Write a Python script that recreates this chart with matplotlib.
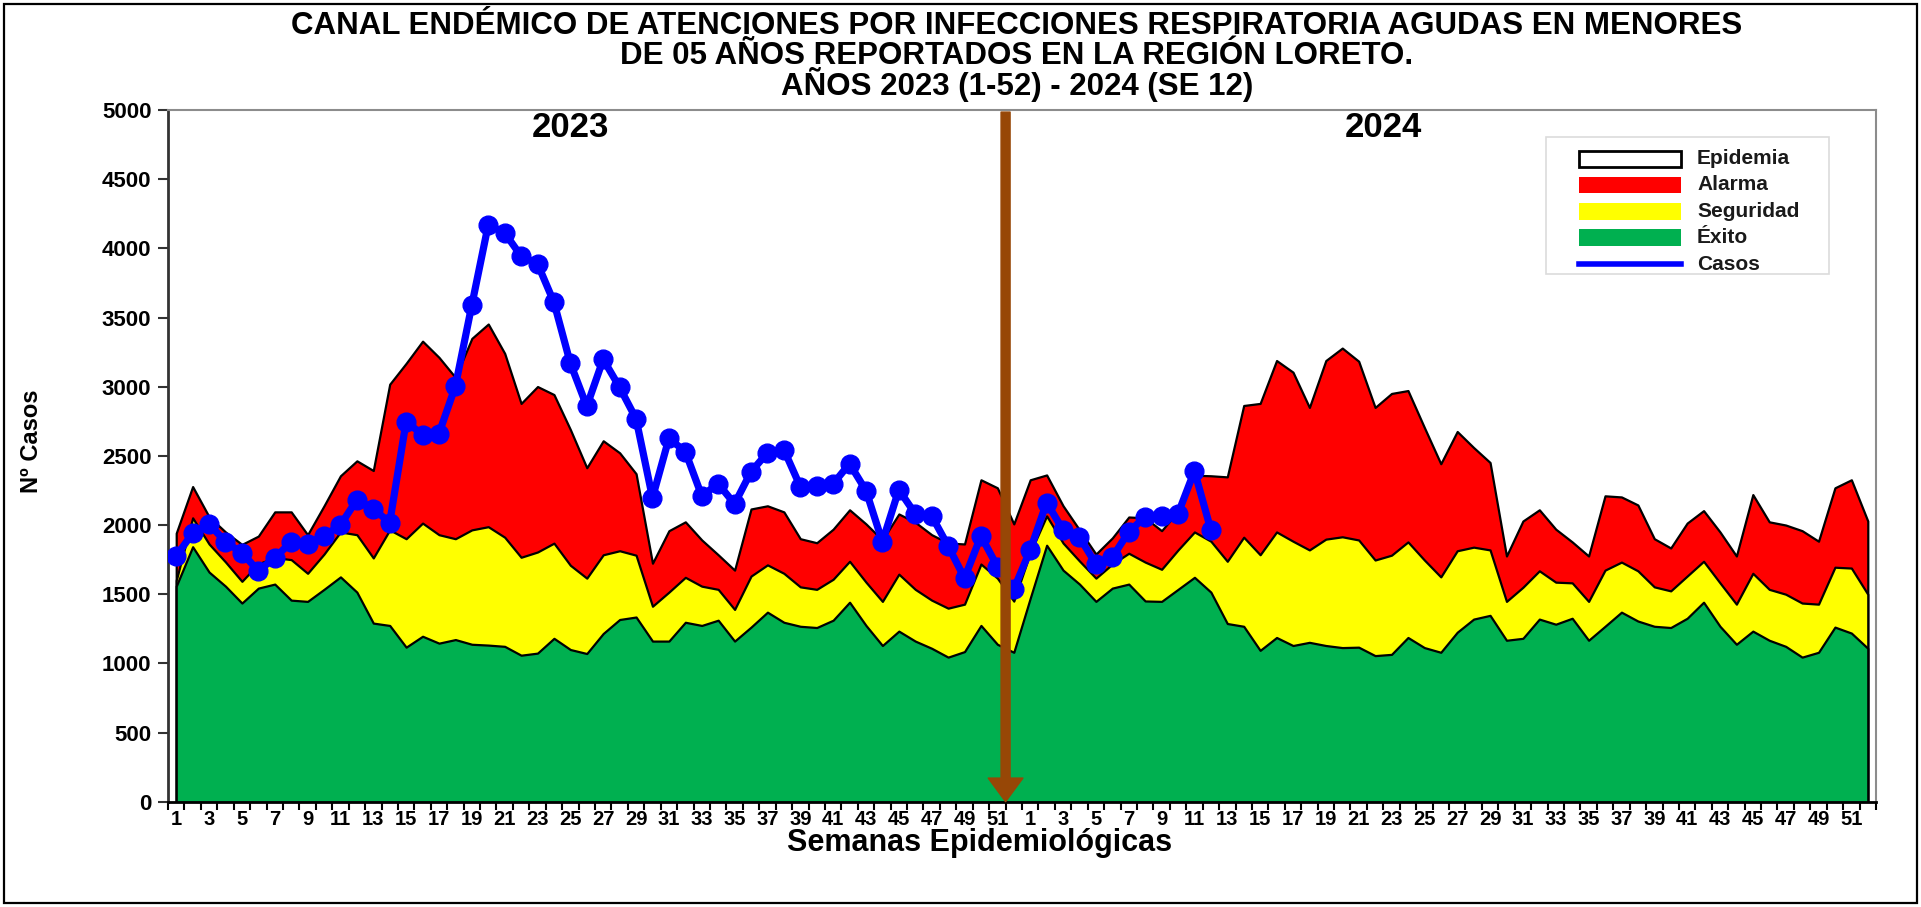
import numpy as np
import matplotlib
matplotlib.use("Agg")
import matplotlib.pyplot as plt
from matplotlib.patches import Rectangle
from matplotlib.lines import Line2D

plt.rcParams['font.family'] = ['Liberation Sans', 'DejaVu Sans']

# ---------------- data ----------------
semanas = list(range(1, 53))

exito_2023 = [1558, 1843, 1660, 1558, 1436, 1544, 1573, 1457, 1448, 1535,
              1625, 1515, 1291, 1274, 1117, 1196, 1146, 1172, 1138, 1132,
              1123, 1059, 1074, 1181, 1100, 1071, 1216, 1317, 1335, 1161,
              1161, 1297, 1274, 1312, 1161, 1262, 1370, 1297, 1268, 1259,
              1312, 1442, 1274, 1129, 1233, 1161, 1109, 1045, 1085, 1274,
              1138, 1080]
seguridad_2023 = [1600, 2052, 1863, 1733, 1593, 1720, 1765, 1750, 1651, 1790,
                  1950, 1930, 1762, 1965, 1901, 2014, 1930, 1901, 1965, 1988,
                  1912, 1767, 1805, 1869, 1709, 1616, 1785, 1814, 1782, 1413,
                  1515, 1622, 1558, 1535, 1390, 1631, 1712, 1651, 1553, 1535,
                  1608, 1738, 1587, 1448, 1645, 1535, 1457, 1399, 1428, 1718,
                  1616, 1450]
alarma_2023 = [1941, 2278, 2060, 1950, 1860, 1920, 2095, 2095, 1930, 2139,
               2356, 2464, 2394, 3018, 3169, 3329, 3212, 3067, 3349, 3453,
               3241, 2879, 3001, 2943, 2690, 2414, 2609, 2522, 2371, 1724,
               1959, 2023, 1892, 1785, 1674, 2116, 2139, 2095, 1901, 1872,
               1970, 2110, 2008, 1892, 2080, 2020, 1930, 1870, 1863, 2327,
               2269, 2008]
casos_2023 = [1776, 1941, 2008, 1878, 1799, 1669, 1762, 1878, 1863, 1921,
              2000, 2182, 2118, 2017, 2748, 2652, 2661, 3004, 3590, 4170,
              4112, 3944, 3889, 3610, 3169, 2858, 3198, 2995, 2768, 2197,
              2626, 2531, 2211, 2298, 2153, 2385, 2522, 2545, 2278, 2284,
              2298, 2443, 2249, 1878, 2255, 2081, 2066, 1849, 1616, 1921,
              1700, 1535]

exito_2024 = [1471, 1854, 1674, 1573, 1448, 1544, 1573, 1451, 1448, 1535,
              1622, 1515, 1288, 1268, 1094, 1187, 1129, 1152, 1129, 1114,
              1117, 1056, 1065, 1187, 1114, 1080, 1225, 1320, 1347, 1167,
              1181, 1320, 1283, 1326, 1167, 1268, 1370, 1306, 1268, 1259,
              1326, 1442, 1268, 1138, 1233, 1167, 1123, 1045, 1080, 1262,
              1219, 1109]
seguridad_2024 = [1800, 2066, 1870, 1740, 1616, 1718, 1796, 1732, 1680, 1820,
                  1950, 1883, 1738, 1912, 1785, 1950, 1883, 1820, 1898, 1915,
                  1892, 1747, 1782, 1878, 1747, 1625, 1814, 1840, 1820, 1448,
                  1550, 1669, 1587, 1582, 1448, 1674, 1732, 1669, 1553, 1524,
                  1631, 1738, 1582, 1428, 1651, 1535, 1500, 1436, 1428, 1695,
                  1689, 1500]
alarma_2024 = [2327, 2362, 2139, 1965, 1790, 1907, 2058, 2052, 1959, 2100,
               2360, 2356, 2348, 2864, 2879, 3189, 3105, 2850, 3189, 3279,
               3184, 2850, 2951, 2972, 2705, 2443, 2676, 2560, 2452, 1776,
               2029, 2110, 1970, 1878, 1776, 2211, 2203, 2145, 1901, 1834,
               2014, 2104, 1950, 1776, 2220, 2023, 2000, 1959, 1883, 2269,
               2327, 2029]
casos_2024 = [1820, 2162, 1965, 1912, 1718, 1767, 1950, 2060, 2066, 2081,
              2391, 1965]

y_ticks = list(range(0, 5001, 500))
titulo = ["CANAL ENDÉMICO DE ATENCIONES POR INFECCIONES RESPIRATORIA AGUDAS EN MENORES",
          "DE 05 AÑOS REPORTADOS EN LA REGIÓN LORETO.",
          "AÑOS 2023 (1-52) - 2024 (SE 12)"]
leyenda = ['Epidemia', 'Alarma', 'Seguridad', 'Éxito', 'Casos']

# ---------------- build ----------------
exito = np.array(exito_2023 + exito_2024)
seguridad = np.array(seguridad_2023 + seguridad_2024)
alarma = np.array(alarma_2023 + alarma_2024)
casos = np.array(casos_2023 + casos_2024)
n = len(exito)
x = np.arange(1, n + 1)
xc = np.arange(1, len(casos) + 1)

W, H = 1921, 907
fig = plt.figure(figsize=(W / 100, H / 100), dpi=100)
fig.patch.set_facecolor('white')

ax = fig.add_axes([168 / W, 1 - 801.7 / H, (1876 - 168) / W, (801.7 - 110) / H])

edge_kw = dict(edgecolor='black', linewidth=1.6)
ax.fill_between(x, 0, alarma, facecolor='#FF0000', zorder=2, **edge_kw)
ax.fill_between(x, 0, seguridad, facecolor='#FFFF00', zorder=3, **edge_kw)
ax.fill_between(x, 0, exito, facecolor='#00B050', zorder=4, **edge_kw)

ax.plot(xc, casos, color='#0000FF', linewidth=5.2, marker='o', markersize=13.5,
        markerfacecolor='#0000FF', markeredgecolor='#0000FF', zorder=6,
        solid_joinstyle='round')

# arrow marking the change of year
ax.annotate('', xy=(51.5, 0), xytext=(51.5, 4985),
            arrowprops=dict(facecolor='#974706', edgecolor='#974706',
                            width=6.5, headwidth=25, headlength=17, shrink=0),
            zorder=8)

ax.set_xlim(0.5, n + 0.5)
ax.set_ylim(0, 5000)

# x ticks: labels on odd weeks of each year, tick marks on category borders
lab_pos, lab_txt = [], []
for i, w in enumerate(semanas + semanas):
    if w % 2 == 1:
        lab_pos.append(i + 1)
        lab_txt.append(str(w))
ax.set_xticks(lab_pos)
ax.set_xticklabels(lab_txt, fontsize=14.5, fontweight='bold')
ax.set_xticks(np.arange(0.5, n + 1, 1.0), minor=True)
ax.tick_params(axis='x', which='major', length=0, pad=6)
ax.tick_params(axis='x', which='minor', length=6, width=1.5, direction='out', color='black')

ax.set_yticks(y_ticks)
ax.set_yticklabels([str(v) for v in y_ticks], fontsize=16, fontweight='bold')
ax.tick_params(axis='y', length=7, width=1.5, direction='out', pad=5, color='#333333')

for s in ['top', 'right']:
    ax.spines[s].set_color('#8c8c8c')
    ax.spines[s].set_linewidth(1.5)
ax.spines['left'].set_color('#333333')
ax.spines['left'].set_linewidth(2)
ax.spines['bottom'].set_color('black')
ax.spines['bottom'].set_linewidth(2)

ax.set_xlabel('Semanas Epidemiológicas', fontsize=22, fontweight='bold')
ax.xaxis.set_label_coords((980 - 168) / 1708, -(843 - 801.7) / 691.7)
ax.xaxis.label.set_va('center')
ax.set_ylabel('Nº Casos', fontsize=17, fontweight='bold')
ax.yaxis.set_label_coords((31 - 168) / 1708, (801.7 - 441) / 691.7)
ax.yaxis.label.set_va('center')

ax.text(25, 4870, '2023', fontsize=25, fontweight='bold', ha='center', va='center', zorder=9)
ax.text(74.5, 4870, '2024', fontsize=25, fontweight='bold', ha='center', va='center', zorder=9)

# ---- legend (drawn in figure pixel coordinates) ----
def fx(px):
    return px / W

def fy(py):
    return 1 - py / H

fig.add_artist(Rectangle((fx(1546), fy(274)), (1829 - 1546) / W, (274 - 137) / H,
                         transform=fig.transFigure, facecolor='white',
                         edgecolor='#dcdcdc', linewidth=1.2, zorder=20))
row_y = [159, 185, 211.5, 237.5, 264]
styles = [dict(facecolor='white', edgecolor='black', linewidth=2),
          dict(facecolor='#FF0000', edgecolor='none'),
          dict(facecolor='#FFFF00', edgecolor='none'),
          dict(facecolor='#00B050', edgecolor='none'),
          None]
for lab, ry, st in zip(leyenda, row_y, styles):
    if st is None:
        fig.add_artist(Line2D([fx(1579), fx(1681)], [fy(ry), fy(ry)],
                              transform=fig.transFigure, color='#0000FF',
                              linewidth=4, zorder=21))
    else:
        fig.add_artist(Rectangle((fx(1579), fy(ry + 8)), 102 / W, 16 / H,
                                 transform=fig.transFigure, zorder=21, **st))
    fig.text(fx(1697), fy(ry), lab, fontsize=15, fontweight='bold',
             color='#1a1a1a', ha='left', va='center', zorder=22)

ys = [26, 55.5, 84.5]
for line, yy in zip(titulo, ys):
    fig.text(1017 / W, 1 - yy / H, line, fontsize=22.5, fontweight='bold',
             ha='center', va='center')

fig.add_artist(Rectangle((4 / W, 4 / H), (W - 8) / W, (H - 8) / H,
                         transform=fig.transFigure, fill=False,
                         edgecolor='black', linewidth=1.6))

fig.savefig('out.png', dpi=100)
